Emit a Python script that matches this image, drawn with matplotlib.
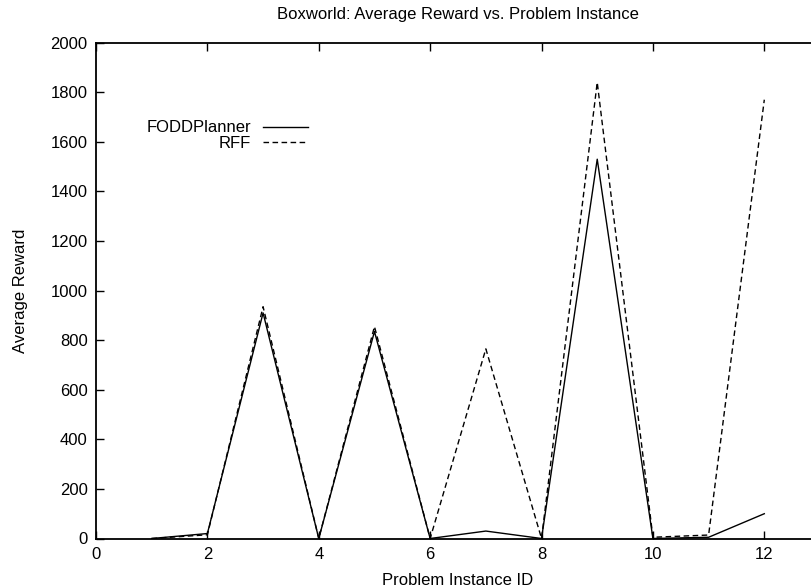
import matplotlib
matplotlib.use("Agg")
import matplotlib.pyplot as plt

plt.rcParams['font.family'] = ['Liberation Sans', 'DejaVu Sans']

# problem instances and average rewards
instances = [1, 2, 3, 4, 5, 6, 7, 8, 9, 10, 11, 12]
fodd = [0, 20, 910, 0, 835, 0, 30, 0, 1530, 0, 5, 100]
rff = [0, 15, 935, 0, 855, 0, 765, 0, 1840, 5, 14, 1770]

xticks = [0, 2, 4, 6, 8, 10, 12]
yticks = [0, 200, 400, 600, 800, 1000, 1200, 1400, 1600, 1800, 2000]

fig = plt.figure(figsize=(8.11, 5.87), dpi=100)
# right border lies outside the picture, as in the original
ax = fig.add_axes([96 / 811, 1 - 538.5 / 587, 724 / 811, 495.8 / 587])

ax.plot(instances, fodd, color='black', lw=1.0, label='FODDPlanner')
ax.plot(instances, rff, color='black', lw=1.0, ls=(0, (4, 2.5)), label='RFF')

ax.set_xlim(0, 13)
ax.set_ylim(0, 2000)
ax.set_xticks(xticks)
ax.set_yticks(yticks)
ax.tick_params(direction='in', length=6, width=1, labelsize=12, top=True, right=False, pad=6)
for s in ax.spines.values():
    s.set_linewidth(1.3)
ax.spines['right'].set_visible(False)

ax.set_title('Boxworld: Average Reward vs. Problem Instance', fontsize=12, pad=17)
ax.set_xlabel('Problem Instance ID', fontsize=12, labelpad=8)
ax.set_ylabel('Average Reward', fontsize=12, labelpad=16)

ax.legend(loc='upper left', bbox_to_anchor=(0.058, 0.86), frameon=False, markerfirst=False,
          fontsize=12, handlelength=2.75, handletextpad=0.7, labelspacing=0.05, borderpad=0)

fig.savefig('out.png', dpi=100)
